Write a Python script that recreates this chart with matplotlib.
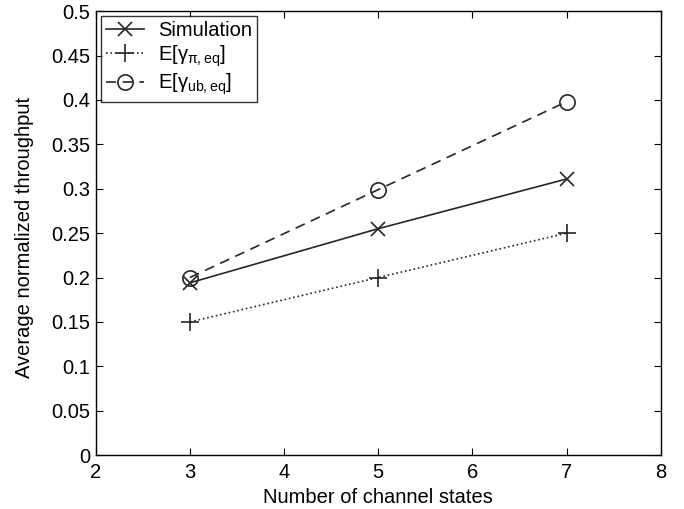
#!/usr/bin/env python3
"""Average normalized throughput vs number of channel states."""

import matplotlib
matplotlib.use("Agg")
import matplotlib.pyplot as plt

# data
n_states = [3, 5, 7]
sim = [0.194, 0.255, 0.311]
e_pi = [0.150, 0.200, 0.250]
e_ub = [0.200, 0.299, 0.398]

x_ticks = [2, 3, 4, 5, 6, 7, 8]
y_ticks = [0, 0.05, 0.1, 0.15, 0.2, 0.25, 0.3, 0.35, 0.4, 0.45, 0.5]
y_tick_labels = ["0", "0.05", "0.1", "0.15", "0.2", "0.25", "0.3", "0.35", "0.4", "0.45", "0.5"]

LINE = "#262626"
FS = 14.5

plt.rcParams.update(
    {
        "font.family": ["Liberation Sans", "DejaVu Sans"],
        "font.size": FS,
        "mathtext.fontset": "custom",
        "mathtext.rm": "Liberation Sans",
        "mathtext.it": "Liberation Sans:italic",
        "mathtext.default": "regular",
        "axes.linewidth": 1.0,
        "xtick.direction": "in",
        "ytick.direction": "in",
        "xtick.top": True,
        "ytick.right": True,
        "xtick.major.size": 5,
        "ytick.major.size": 5,
    }
)

fig = plt.figure(figsize=(6.84, 5.09), dpi=100)
ax = fig.add_axes([0.140, 0.106, 0.826, 0.872])

ax.plot(n_states, sim, color=LINE, linestyle="-", linewidth=1.2,
        marker="x", markersize=10, markeredgewidth=1.2, label="Simulation")
ax.plot(n_states, e_pi, color=LINE, linestyle=":", linewidth=1.2,
        marker="+", markersize=13, markeredgewidth=1.2,
        label=r"E[$\gamma_{\pi,\mathrm{eq}}$]")
ax.plot(n_states, e_ub, color=LINE, linestyle=(0, (6, 4)), linewidth=1.2,
        marker="o", markersize=11, markerfacecolor="none", markeredgewidth=1.2,
        label=r"E[$\gamma_{\mathrm{ub,eq}}$]")

ax.set_xlim(2, 8)
ax.set_ylim(0, 0.5)
ax.set_xticks(x_ticks)
ax.set_yticks(y_ticks)
ax.set_yticklabels(y_tick_labels)
ax.tick_params(axis="x", labelsize=FS, pad=6)
ax.tick_params(axis="y", labelsize=FS, pad=4)

ax.set_xlabel("Number of channel states", fontsize=FS, labelpad=4)
ax.set_ylabel("Average normalized throughput", fontsize=FS)
ax.yaxis.set_label_coords(-0.11, 0.49)

leg = ax.legend(loc="upper left", fontsize=FS, frameon=True, fancybox=False,
                edgecolor="black", borderaxespad=0.25, handlelength=1.9,
                borderpad=0.25, labelspacing=0.15, handletextpad=0.7)
leg.get_frame().set_linewidth(1.0)

fig.savefig("out.png", dpi=100)
plt.close(fig)
